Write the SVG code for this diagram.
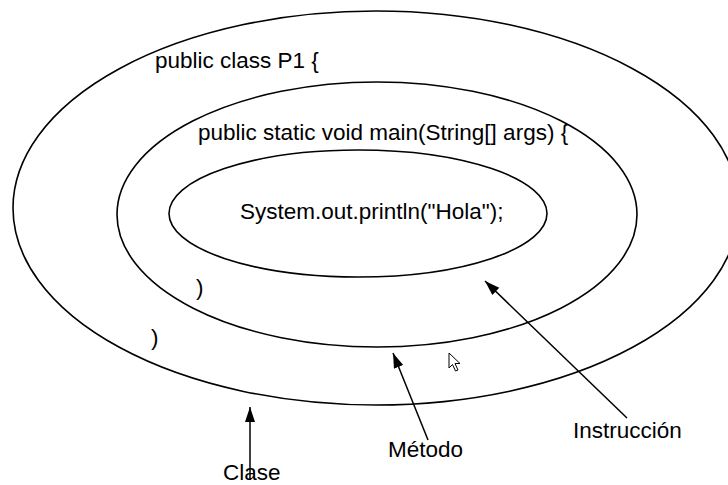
<svg xmlns="http://www.w3.org/2000/svg" width="728" height="485" viewBox="0 0 728 485">
<style>
.ring{fill:none;stroke:#000;stroke-width:1.6}
.t{font-family:"Liberation Sans",Arial,sans-serif;font-size:22.5px;fill:#000}
.arr{stroke:#000;stroke-width:1.5;fill:none}
</style>
<defs>
<marker id="ah" markerUnits="userSpaceOnUse" markerWidth="16" markerHeight="12" refX="15" refY="5" orient="auto">
<path d="M0,0 L15,5 L0,10 Z" fill="#000"/>
</marker>
</defs>
<rect width="728" height="485" fill="#fff"/>
<g id="clase">
<ellipse class="ring" cx="376" cy="208" rx="363" ry="197"/>
<text class="t" x="155" y="68">public class P1 {</text>
<text class="t" x="151" y="345">)</text>
</g>
<g id="metodo">
<ellipse class="ring" cx="377" cy="214.5" rx="260" ry="132.5"/>
<text class="t" x="198" y="140">public static void main(String[] args) {</text>
<text class="t" x="196" y="295">)</text>
</g>
<g id="instruccion">
<ellipse class="ring" cx="358" cy="213.5" rx="189" ry="63.5"/>
<text class="t" x="240" y="219">System.out.println("Hola");</text>
</g>
<g id="connectors">
<line class="arr" x1="250" y1="480" x2="250" y2="407" marker-end="url(#ah)"/>
<line class="arr" x1="428" y1="440" x2="393" y2="353" marker-end="url(#ah)"/>
<line class="arr" x1="627" y1="418" x2="485" y2="281" marker-end="url(#ah)"/>
</g>
<g id="labels">
<text class="t" x="223" y="480">Clase</text>
<text class="t" x="388" y="457">Método</text>
<text class="t" x="573" y="438">Instrucción</text>
</g>
<g id="cursor">
<path d="M449,353 L449,368 L452.5,364.5 L455.5,371 L458,370 L455,363.5 L460,363.5 Z" fill="#fff" stroke="#000" stroke-width="1"/>
</g>
</svg>
